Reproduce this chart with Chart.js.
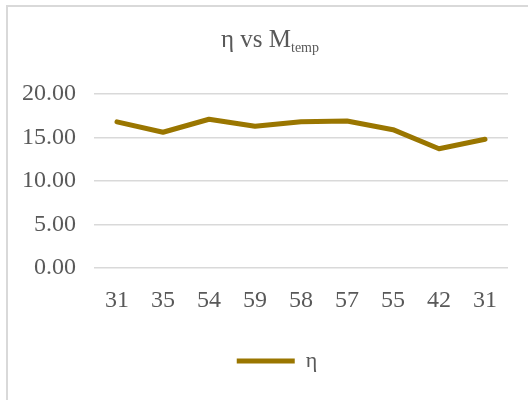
<!DOCTYPE html>
<html>
<head>
<meta charset="utf-8">
<script src="https://cdn.jsdelivr.net/npm/chart.js@4"></script>
<style>
  html, body { margin: 0; padding: 0; background: #ffffff; }
  #wrap { position: relative; width: 528px; height: 400px; overflow: hidden; }
  #frame { position: absolute; left: 6px; top: 5px; width: 600px; height: 500px;
           border-top: 2px solid #d9d9d9; border-left: 2px solid #d9d9d9; box-sizing: border-box; }
  canvas { position: absolute; left: 0; top: 0; }
</style>
</head>
<body>
<div id="wrap">
  <div id="frame"></div>
  <canvas id="c" width="528" height="400"></canvas>
</div>
<script>
// Temperature categories along the x axis
const categories = ['31', '35', '54', '59', '58', '57', '55', '42', '31'];
// Efficiency η for each category
const etaValues = [16.8, 15.6, 17.1, 16.3, 16.8, 16.9, 15.9, 13.7, 14.8];
// Value axis ticks
const yTicks = [0, 5, 10, 15, 20];

const textColor = '#595959';
const gridColor = '#d9d9d9';
const lineColor = '#9a7600';
const serif = '"Liberation Serif", "Times New Roman", serif';

// Title with a subscript: "η vs M" followed by a lowered "temp"
const titlePlugin = {
  id: 'subTitle',
  afterDraw(chart) {
    const ctx = chart.ctx;
    const main = 'η vs M';
    const sub = 'temp';
    ctx.save();
    ctx.fillStyle = textColor;
    ctx.textBaseline = 'alphabetic';
    ctx.textAlign = 'left';
    ctx.font = '25px ' + serif;
    const wMain = ctx.measureText(main).width;
    ctx.font = '14px ' + serif;
    const wSub = ctx.measureText(sub).width;
    const x0 = 270 - (wMain + wSub) / 2;
    ctx.font = '25px ' + serif;
    ctx.fillText(main, x0, 47);
    ctx.font = '14px ' + serif;
    ctx.fillText(sub, x0 + wMain, 52);
    ctx.restore();
  }
};

// Nudge the bottom legend so it sits centred under the plot rather than the canvas
const legendShift = {
  id: 'legendShift',
  afterLayout(chart) {
    const lg = chart.legend;
    if (!lg) return;
    const dx = 23;
    lg.left += dx;
    lg.right += dx;
  }
};

new Chart(document.getElementById('c'), {
  type: 'line',
  data: {
    labels: categories,
    datasets: [{
      label: 'η',
      data: etaValues,
      borderColor: lineColor,
      backgroundColor: lineColor,
      borderWidth: 5,
      borderCapStyle: 'round',
      borderJoinStyle: 'round',
      pointRadius: 0,
      pointHoverRadius: 0,
      tension: 0,
      fill: false
    }]
  },
  options: {
    responsive: false,
    animation: false,
    events: [],
    layout: { padding: { top: 94, left: 0, right: 20, bottom: 18 } },
    plugins: {
      title: { display: false },
      tooltip: { enabled: false },
      legend: {
        display: true,
        position: 'bottom',
        labels: {
          usePointStyle: true,
          pointStyle: 'line',
          pointStyleWidth: 58,
          padding: 10,
          color: textColor,
          font: { family: serif, size: 22 }
        }
      }
    },
    scales: {
      x: {
        offset: true,
        grid: { display: false, drawTicks: false },
        border: { display: false },
        ticks: {
          color: textColor,
          font: { family: serif, size: 24 },
          padding: 18,
          maxRotation: 0,
          autoSkip: false
        },
        afterFit(scale) { scale.height = 72; }
      },
      y: {
        min: 0,
        max: 20,
        afterBuildTicks(scale) { scale.ticks = yTicks.map(v => ({ value: v })); },
        grid: { color: gridColor, lineWidth: 1.5, drawTicks: false },
        border: { display: false },
        ticks: {
          color: textColor,
          font: { family: serif, size: 24 },
          padding: 18,
          callback: v => Number(v).toFixed(2)
        },
        afterFit(scale) { scale.width = 94; }
      }
    }
  },
  plugins: [titlePlugin, legendShift]
});
</script>
</body>
</html>
